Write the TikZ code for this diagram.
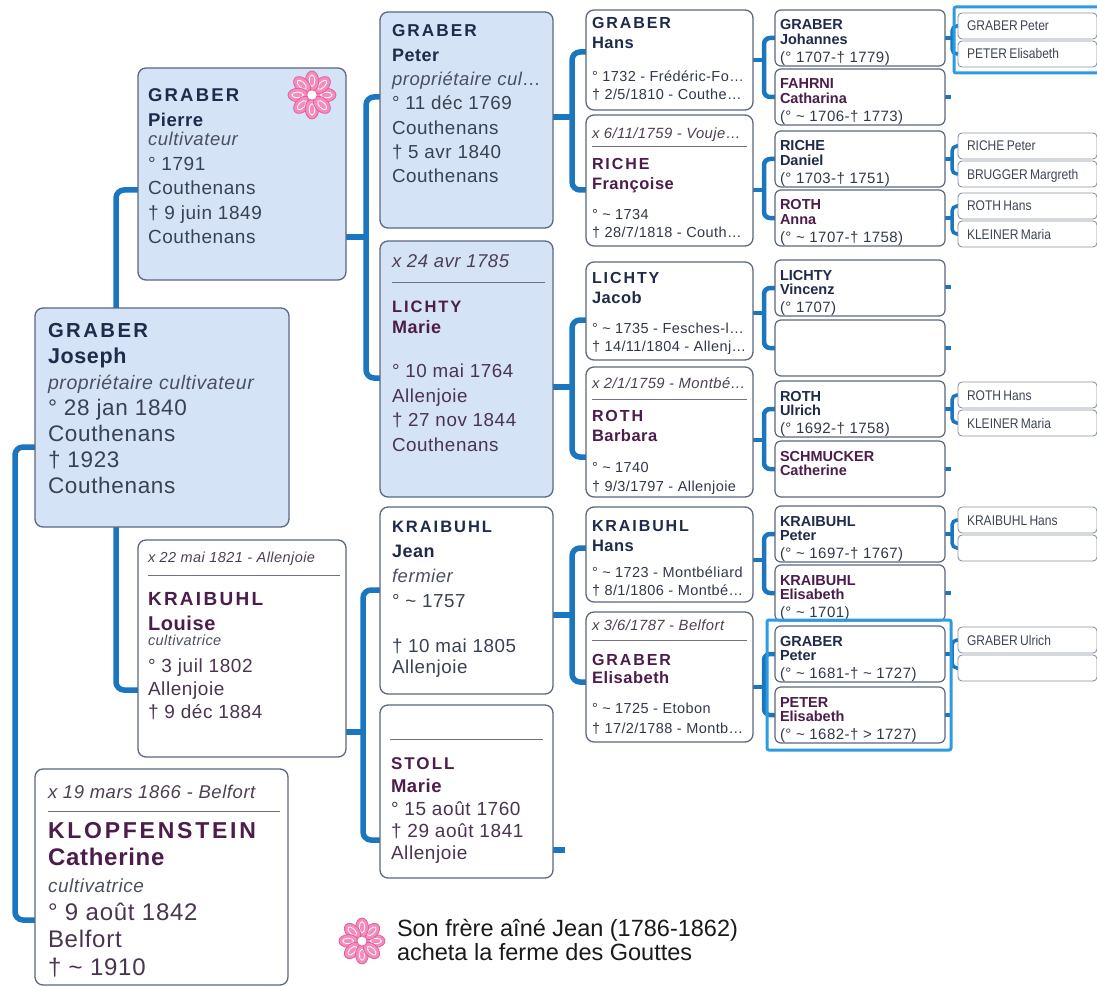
\documentclass[tikz,border=0pt]{standalone}
\usepackage{fontspec}
\setmainfont{Liberation Sans}[LetterSpace=3]
\newfontfamily\surfont{Liberation Sans}[LetterSpace=12]
\newfontfamily\notefont{Liberation Sans}
\newfontfamily\cfivefont{Liberation Sans}[FakeStretch=0.86]
\usetikzlibrary{backgrounds}
\definecolor{linkc}{HTML}{1A77BF}
\definecolor{bordc}{HTML}{5B6880}
\definecolor{boxblue}{HTML}{D4E3F6}
\definecolor{cNavy}{HTML}{1F2B4A}
\definecolor{cPlum}{HTML}{4C1D4A}
\definecolor{cMaled}{HTML}{394254}
\definecolor{cFemd}{HTML}{4A3450}
\definecolor{cDet}{HTML}{30384A}
\definecolor{cJob}{HTML}{4A5060}
\definecolor{cHdr}{HTML}{4E4052}
\definecolor{sepc}{HTML}{76707C}
\definecolor{hlc}{HTML}{2C9BE2}
\definecolor{petal}{HTML}{F48CBE}
\definecolor{petald}{HTML}{E2609A}
\definecolor{cC5}{HTML}{3E4556}
\definecolor{cNote}{HTML}{1A1A1A}
\definecolor{c5bord}{HTML}{8A92A0}

\newcommand\ptab[4]{{\color{#2}\fontsize{#3}{#1}\selectfont\begin{tabular}[t]{@{}l@{}}#4\end{tabular}}}
\newcommand\Sur[3]{{\color{#1}\fontsize{#2}{#2}\selectfont\surfont\bfseries #3}}
\newcommand\Giv[3]{{\color{#1}\fontsize{#2}{#2}\selectfont\bfseries #3}}
\newcommand\Gtight[3]{{\color{#1}\fontsize{#2}{#2}\selectfont\notefont\bfseries #3}}
\newcommand\Job[2]{{\color{cJob}\fontsize{#1}{#1}\selectfont\itshape #2}}
\newcommand\Hdr[2]{{\color{cHdr}\fontsize{#1}{#1}\selectfont\itshape #2}}

\tikzset{
  pbox/.style={draw=bordc, line width=1.3pt, rounded corners=8pt, fill=white, anchor=north west, inner sep=0pt, outer sep=0pt},
  fbox/.style={pbox, fill=boxblue},
  sbox/.style={pbox, rounded corners=6pt, line width=1.2pt, minimum width=170pt, minimum height=56pt},
  tbox/.style={pbox, rounded corners=4pt, line width=0.9pt, draw=c5bord, minimum width=139pt, minimum height=26pt},
  ptxt/.style={anchor=base west, inner sep=0pt, outer sep=0pt},
  conn/.style={draw=linkc, line width=5.5pt, rounded corners=8pt},
  conntwo/.style={draw=linkc, line width=4.5pt, rounded corners=6pt},
  connthree/.style={draw=linkc, line width=3.5pt, rounded corners=5pt},
  sepline/.style={draw=sepc, line width=1pt},
  hlbox/.style={draw=hlc, line width=3pt, rounded corners=2pt},
}

\newcommand\bracket[8]{%
  \draw[#1] ([shift={(0,#3)}]#2.north east) -- ([shift={(#4,#3)}]#2.north east);
  \draw[#1] ([shift={(0,#6)}]#5.north west) -| ([shift={(#4,#3)}]#2.north east) |- ([shift={(0,#8)}]#7.north west);}
\newcommand\pstub[4]{\draw[#1] ([shift={(0,#3)}]#2.north east) -- ([shift={(#4,#3)}]#2.north east);}

\newcommand\gfive[6]{%
  \node[sbox] (#1) at (775,#2) {};
  \node[ptxt] (#1T) at ([shift={(5,20)}]#1.north west) {\ptab{14pt}{cDet}{15}{\Gtight{#3}{14.5}{#4}\\\Gtight{#3}{14.5}{#5}\\[3pt]#6}};}
\newcommand\gsix[3]{%
  \node[tbox] (#1) at (958,#2) {};
  \node[ptxt] (#1T) at ([shift={(9,18)}]#1.north west) {\cfivefont\fontsize{14}{14}\selectfont\color{cC5}#3};}
\newcommand\gsixe[2]{\node[tbox] (#1) at (958,#2) {};}

\newcommand\drawflower[2]{%
  \begin{scope}[shift={#1}]
    \foreach \pa in {0,45,...,315}{
      \filldraw[fill=petal, draw=petald, line width=0.8pt, rotate=\pa] ({0.58*#2},0) ellipse ({0.42*#2} and {0.28*#2});
      \draw[white, line width=0.8pt, rotate=\pa] ({0.6*#2},0) ellipse ({0.24*#2} and {0.12*#2});
    }
    \filldraw[fill=white, draw=petald, line width=0.8pt] (0,0) circle ({0.22*#2});
  \end{scope}}

\begin{document}
\begin{tikzpicture}[x=1pt,y=-1pt]
\useasboundingbox (0,0) rectangle (1097,987);

% ---------- generation 1
\node[fbox, minimum width=254pt, minimum height=219pt] (joseph) at (35,308) {};
\node[ptxt] (josephT) at ([shift={(13,29)}]joseph.north west) {\ptab{26pt}{cMaled}{22.5}{%
  \Sur{cNavy}{20.3}{GRABER}\\\Giv{cNavy}{21.5}{Joseph}\\\Job{19.5}{propriétaire cultivateur}\\
  ° 28 jan 1840\\Couthenans\\† 1923\\Couthenans}};

\node[pbox, minimum width=253pt, minimum height=216pt] (catherine) at (35,769) {};
\node[ptxt] (catherineH) at ([shift={(13,29)}]catherine.north west) {\Hdr{18.5}{x 19 mars 1866 - Belfort}};
\draw[sepline] ([shift={(13,42)}]catherine.north west) -- ([shift={(-8,42)}]catherine.north east);
\node[ptxt] (catherineT) at ([shift={(13,69)}]catherine.north west) {\ptab{27.4pt}{cFemd}{24}{%
  \Sur{cPlum}{23}{KLOPFENSTEIN}\\\Giv{cPlum}{24}{Catherine}\\\Job{19}{cultivatrice}\\
  ° 9 août 1842\\Belfort\\† \textasciitilde{} 1910}};

% ---------- generation 2
\node[fbox, minimum width=208pt, minimum height=212pt] (pierre) at (138,68) {};
\node[ptxt] (pierreT) at ([shift={(10,34)}]pierre.north west) {\ptab{24.5pt}{cMaled}{19}{%
  \Sur{cNavy}{18.5}{GRABER}\\\Giv{cNavy}{18.5}{Pierre}\\[-5pt]\Job{18.5}{cultivateur}\\
  ° 1791\\Couthenans\\† 9 juin 1849\\Couthenans}};
\drawflower{(312,95)}{24}

\node[pbox, minimum width=208pt, minimum height=217pt] (louise) at (138,540) {};
\node[ptxt] (louiseH) at ([shift={(10,22)}]louise.north west) {\Hdr{14.5}{x 22 mai 1821 - Allenjoie}};
\draw[sepline] ([shift={(10,35)}]louise.north west) -- ([shift={(-6,35)}]louise.north east);
\node[ptxt] (louiseT) at ([shift={(10,65)}]louise.north west) {\ptab{23pt}{cFemd}{19}{%
  \Sur{cPlum}{19}{KRAIBUHL}\\[2pt]\Giv{cPlum}{20}{Louise}\\[-8pt]\Job{14.5}{cultivatrice}\\[4pt]
  ° 3 juil 1802\\Allenjoie\\† 9 déc 1884}};

% ---------- generation 3
\node[fbox, minimum width=173pt, minimum height=216pt] (peter) at (380,12) {};
\node[ptxt] (peterT) at ([shift={(12,25)}]peter.north west) {\ptab{24.3pt}{cMaled}{18.8}{%
  \Sur{cNavy}{17.2}{GRABER}\\\Giv{cNavy}{18}{Peter}\\\Job{18.5}{propriétaire cul…}\\
  ° 11 déc 1769\\Couthenans\\† 5 avr 1840\\Couthenans}};

\node[fbox, minimum width=173pt, minimum height=256pt] (marie) at (380,241) {};
\node[ptxt] (marieH) at ([shift={(12,26)}]marie.north west) {\Hdr{18.5}{x 24 avr 1785}};
\draw[sepline] ([shift={(12,41)}]marie.north west) -- ([shift={(-8,41)}]marie.north east);
\node[ptxt] (marieT) at ([shift={(12,71)}]marie.north west) {\ptab{24.5pt}{cFemd}{18.8}{%
  \Sur{cPlum}{16.5}{LICHTY}\\[-3.5pt]\Giv{cPlum}{18}{Marie}\\[20pt]
  ° 10 mai 1764\\Allenjoie\\† 27 nov 1844\\Couthenans}};

\node[pbox, minimum width=173pt, minimum height=187pt] (jean) at (380,507) {};
\node[ptxt] (jeanT) at ([shift={(12,25)}]jean.north west) {\ptab{25pt}{cMaled}{18.8}{%
  \Sur{cNavy}{16.5}{KRAIBUHL}\\\Giv{cNavy}{18}{Jean}\\\Job{18.5}{fermier}\\
  ° \textasciitilde{} 1757\\[20pt]† 10 mai 1805\\[-4pt]Allenjoie}};

\node[pbox, minimum width=173pt, minimum height=173pt] (stoll) at (380,705) {};
\draw[sepline] ([shift={(10,34)}]stoll.north west) -- ([shift={(-10,34)}]stoll.north east);
\node[ptxt] (stollT) at ([shift={(11,64)}]stoll.north west) {\ptab{22.3pt}{cFemd}{19}{%
  \Sur{cPlum}{17}{STOLL}\\[1.5pt]\Giv{cPlum}{18.5}{Marie}\\
  ° 15 août 1760\\† 29 août 1841\\Allenjoie}};

% ---------- generation 4
\node[pbox, minimum width=167pt, minimum height=100pt] (hansg) at (586,10) {};
\node[ptxt] (hansgT) at ([shift={(6,19)}]hansg.north west) {\ptab{18pt}{cDet}{14.5}{%
  \Sur{cNavy}{16}{GRABER}\\[2pt]\Giv{cNavy}{16.5}{Hans}\\[15pt]° 1732 - Frédéric-Fo…\\† 2/5/1810 - Couthe…}};

\node[pbox, minimum width=167pt, minimum height=131pt] (francoise) at (586,115) {};
\node[ptxt] (francoiseH) at ([shift={(6,24)}]francoise.north west) {\Hdr{14.8}{x 6/11/1759 - Vouje…}};
\draw[sepline] ([shift={(6,32)}]francoise.north west) -- ([shift={(-6,32)}]francoise.north east);
\node[ptxt] (francoiseT) at ([shift={(6,55)}]francoise.north west) {\ptab{18pt}{cDet}{14.5}{%
  \Sur{cPlum}{16}{RICHE}\\[2pt]\Giv{cPlum}{16.5}{Françoise}\\[12pt]° \textasciitilde{} 1734\\† 28/7/1818 - Couth…}};

\node[pbox, minimum width=167pt, minimum height=98pt] (jacob) at (586,262) {};
\node[ptxt] (jacobT) at ([shift={(6,21)}]jacob.north west) {\ptab{18pt}{cDet}{14.5}{%
  \Sur{cNavy}{16}{LICHTY}\\[2pt]\Giv{cNavy}{16.5}{Jacob}\\[12pt]° \textasciitilde{} 1735 - Fesches-l…\\† 14/11/1804 - Allenj…}};

\node[pbox, minimum width=167pt, minimum height=130pt] (barbara) at (586,367) {};
\node[ptxt] (barbaraH) at ([shift={(6,21)}]barbara.north west) {\Hdr{14.8}{x 2/1/1759 - Montbé…}};
\draw[sepline] ([shift={(6,32)}]barbara.north west) -- ([shift={(-6,32)}]barbara.north east);
\node[ptxt] (barbaraT) at ([shift={(6,54)}]barbara.north west) {\ptab{18pt}{cDet}{14.5}{%
  \Sur{cPlum}{16}{ROTH}\\[2pt]\Giv{cPlum}{16.5}{Barbara}\\[13pt]° \textasciitilde{} 1740\\[1pt]† 9/3/1797 - Allenjoie}};

\node[pbox, minimum width=167pt, minimum height=95pt] (hansk) at (586,507) {};
\node[ptxt] (hanskT) at ([shift={(6,24)}]hansk.north west) {\ptab{18pt}{cDet}{14.5}{%
  \Sur{cNavy}{16}{KRAIBUHL}\\[2pt]\Giv{cNavy}{16.5}{Hans}\\[8pt]° \textasciitilde{} 1723 - Montbéliard\\† 8/1/1806 - Montbé…}};

\node[pbox, minimum width=167pt, minimum height=130pt] (elisabethg) at (586,612) {};
\node[ptxt] (elisabethgH) at ([shift={(6,18)}]elisabethg.north west) {\Hdr{14.8}{x 3/6/1787 - Belfort}};
\draw[sepline] ([shift={(6,28)}]elisabethg.north west) -- ([shift={(-6,28)}]elisabethg.north east);
\node[ptxt] (elisabethgT) at ([shift={(6,53)}]elisabethg.north west) {\ptab{18pt}{cDet}{14.5}{%
  \Sur{cPlum}{16}{GRABER}\\\Giv{cPlum}{16.5}{Elisabeth}\\[12pt]° \textasciitilde{} 1725 - Etobon\\[2pt]† 17/2/1788 - Montb…}};

% ---------- generation 5
\gfive{johannes}{10}{cNavy}{GRABER}{Johannes}{(° 1707-† 1779)}
\gfive{catharina}{69}{cPlum}{FAHRNI}{Catharina}{(° \textasciitilde{} 1706-† 1773)}
\gfive{daniel}{131}{cNavy}{RICHE}{Daniel}{(° 1703-† 1751)}
\gfive{anna}{190}{cPlum}{ROTH}{Anna}{(° \textasciitilde{} 1707-† 1758)}
\gfive{vincenz}{260}{cNavy}{LICHTY}{Vincenz}{(° 1707)}
\node[sbox] (emptya) at (775,320) {};
\gfive{ulrich}{381}{cNavy}{ROTH}{Ulrich}{(° 1692-† 1758)}
\node[sbox] (schmucker) at (775,441) {};
\node[ptxt] (schmuckerT) at ([shift={(5,20)}]schmucker.north west) {\ptab{14pt}{cDet}{15}{\Gtight{cPlum}{14.5}{SCHMUCKER}\\\Gtight{cPlum}{14.5}{Catherine}}};
\gfive{kpeter}{506}{cNavy}{KRAIBUHL}{Peter}{(° \textasciitilde{} 1697-† 1767)}
\gfive{kelis}{565}{cPlum}{KRAIBUHL}{Elisabeth}{(° \textasciitilde{} 1701)}
\gfive{gpeter}{626}{cNavy}{GRABER}{Peter}{(° \textasciitilde{} 1681-† \textasciitilde{} 1727)}
\gfive{epeter}{687}{cPlum}{PETER}{Elisabeth}{(° \textasciitilde{} 1682-† > 1727)}

% ---------- generation 6
\gsix{sixa}{13}{GRABER\,Peter}
\gsix{sixb}{41}{PETER\,Elisabeth}
\gsix{sixc}{133}{RICHE\,Peter}
\gsix{sixd}{161}{BRUGGER\,Margreth}
\gsix{sixe}{193}{ROTH\,Hans}
\gsix{sixf}{221}{KLEINER\,Maria}
\gsix{sixg}{382}{ROTH\,Hans}
\gsix{sixh}{410}{KLEINER\,Maria}
\gsix{sixi}{507}{KRAIBUHL\,Hans}
\gsixe{sixj}{535}
\gsix{sixk}{627}{GRABER\,Ulrich}
\gsixe{sixl}{655}

% ---------- highlights
\draw[hlbox] ([shift={(-8,-6)}]gpeter.north west) rectangle ([shift={(6,7)}]epeter.south east);
\draw[hlbox] ([shift={(-4,-6)}]sixa.north west) rectangle ([shift={(6,6)}]sixb.south east);

% ---------- note
\drawflower{(362,941)}{23}
\node[ptxt] (note) at (397,936) {\notefont\ptab{24pt}{cNote}{23.5}{Son frère aîné Jean (1786-1862)\\acheta la ferme des Gouttes}};

% ---------- connectors
\begin{pgfonlayer}{background}
\fill[white] (0,0) rectangle (1097,987);
\draw[conn] ([shift={(0,139)}]joseph.north west) -- ([shift={(-20,139)}]joseph.north west) |- ([shift={(0,151)}]catherine.north west);
\draw[conn] ([shift={(0,122)}]pierre.north west) -| ([shift={(81,0)}]joseph.north west) |- ([shift={(0,150)}]louise.north west);
\bracket{conn}{pierre}{169}{20}{peter}{85}{marie}{137}
\bracket{conn}{louise}{192}{17}{jean}{83}{stoll}{135}
\bracket{conn}{peter}{105}{19}{hansg}{42}{francoise}{75}
\bracket{conn}{marie}{146}{19}{jacob}{58}{barbara}{90}
\bracket{conn}{jean}{108}{19}{hansk}{41}{elisabethg}{70}
\pstub{conn}{stoll}{145}{12}
\bracket{conntwo}{hansg}{50}{11}{johannes}{28}{catharina}{28}
\bracket{conntwo}{francoise}{75}{11}{daniel}{28}{anna}{28}
\bracket{conntwo}{jacob}{51}{11}{vincenz}{28}{emptya}{28}
\bracket{conntwo}{barbara}{73}{11}{ulrich}{28}{schmucker}{28}
\bracket{conntwo}{hansk}{53}{11}{kpeter}{28}{kelis}{28}
\bracket{conntwo}{elisabethg}{75}{11}{gpeter}{28}{epeter}{28}
\bracket{connthree}{johannes}{28}{7}{sixa}{13}{sixb}{13}
\bracket{connthree}{daniel}{28}{7}{sixc}{13}{sixd}{13}
\bracket{connthree}{anna}{28}{7}{sixe}{13}{sixf}{13}
\bracket{connthree}{ulrich}{28}{7}{sixg}{13}{sixh}{13}
\bracket{connthree}{kpeter}{28}{7}{sixi}{13}{sixj}{13}
\bracket{connthree}{gpeter}{28}{7}{sixk}{13}{sixl}{13}
\pstub{connthree}{catharina}{28}{6}
\pstub{connthree}{vincenz}{27}{6}
\pstub{connthree}{emptya}{28}{6}
\pstub{connthree}{schmucker}{28}{6}
\pstub{connthree}{kelis}{28}{6}
\pstub{connthree}{epeter}{28}{6}
\end{pgfonlayer}
\end{tikzpicture}
\end{document}
